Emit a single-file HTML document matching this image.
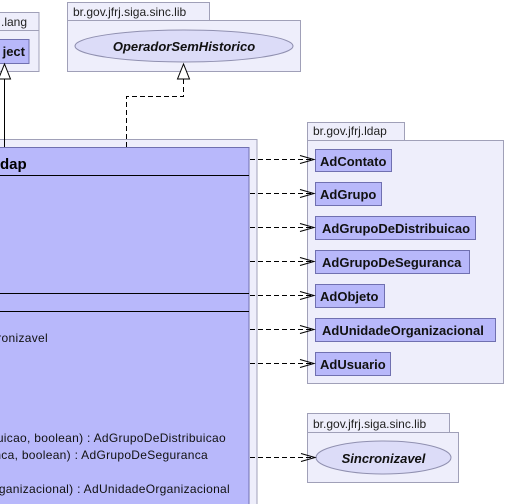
<!DOCTYPE html>
<html><head><meta charset="utf-8"><style>
html,body{margin:0;padding:0;background:#fff;width:506px;height:504px;overflow:hidden}
svg{display:block}
text{font-family:"Liberation Sans",sans-serif}
</style></head><body>
<svg width="506" height="504" viewBox="0 0 506 504" xmlns="http://www.w3.org/2000/svg">
<g stroke="#a0a0b8" stroke-width="1" fill="#eeeefb">
<rect x="-5" y="12.5" width="44" height="18"/>
<rect x="-5" y="30.5" width="44" height="41"/>
<rect x="67.5" y="2.5" width="142" height="18"/>
<rect x="67.5" y="20.5" width="233" height="51"/>
<rect x="-5" y="139.5" width="262" height="380"/>
<rect x="307.5" y="122.5" width="97" height="18"/>
<rect x="307.5" y="140.5" width="196" height="243"/>
<rect x="307.5" y="413.5" width="142" height="19"/>
<rect x="307.5" y="432.5" width="151" height="50"/>
</g>
<g font-size="12" fill="#222">
<text x="1" y="26">.lang</text>
<text x="73" y="16">br.gov.jfrj.siga.sinc.lib</text>
<text x="313" y="135">br.gov.jfrj.ldap</text>
<text x="313" y="428">br.gov.jfrj.siga.sinc.lib</text>
</g>
<ellipse cx="184" cy="46" rx="109" ry="16" fill="#dcdcf8" stroke="#9090b0"/>
<text x="184" y="51" font-size="13" font-weight="bold" font-style="italic" text-anchor="middle" fill="#111">OperadorSemHistorico</text>
<ellipse cx="383.5" cy="457.5" rx="67.5" ry="16.5" fill="#dcdcf8" stroke="#9090b0"/>
<text x="383.5" y="463" font-size="13" font-weight="bold" font-style="italic" text-anchor="middle" fill="#111">Sincronizavel</text>
<rect x="-5" y="39.5" width="34" height="24" fill="#b8b8fa" stroke="#7070b0"/>
<text x="25" y="56" font-size="13" font-weight="bold" text-anchor="end" fill="#111">ject</text>
<rect x="-5" y="147.5" width="254" height="370" fill="#b8b8fb" stroke="#7070b0"/>
<g stroke="#000">
<line x1="0" y1="175.5" x2="249" y2="175.5"/>
<line x1="0" y1="293.5" x2="249" y2="293.5"/>
<line x1="0" y1="311.5" x2="249" y2="311.5"/>
</g>
<text x="0" y="169" font-size="15" font-weight="bold" fill="#000">dap</text>
<g font-size="12" fill="#111" text-anchor="end" letter-spacing="0.3">
<text x="48" y="342">ronizavel</text>
<text x="226" y="442">buicao, boolean) : AdGrupoDeDistribuicao</text>
<text x="208" y="459">anca, boolean) : AdGrupoDeSeguranca</text>
<text x="230" y="493">Organizacional) : AdUnidadeOrganizacional</text>
</g>
<g fill="#b8b8fa" stroke="#7070b0">
<rect x="315.5" y="149.5" width="76" height="22"/>
<rect x="315.5" y="182.5" width="66" height="23"/>
<rect x="315.5" y="216.5" width="160" height="23"/>
<rect x="315.5" y="250.5" width="154" height="23"/>
<rect x="315.5" y="284.5" width="69" height="23"/>
<rect x="315.5" y="318.5" width="180" height="23"/>
<rect x="315.5" y="352.5" width="75" height="23"/>
</g>
<g font-size="13" font-weight="bold" fill="#111">
<text x="320" y="166">AdContato</text>
<text x="320" y="199">AdGrupo</text>
<text x="322" y="233">AdGrupoDeDistribuicao</text>
<text x="322" y="267">AdGrupoDeSeguranca</text>
<text x="320" y="301">AdObjeto</text>
<text x="322" y="335">AdUnidadeOrganizacional</text>
<text x="320" y="369">AdUsuario</text>
</g>
<g stroke="#000" fill="none">
<g stroke-dasharray="5,3">
<line x1="250" y1="159.5" x2="314" y2="159.5"/>
<line x1="250" y1="193.5" x2="314" y2="193.5"/>
<line x1="250" y1="227.5" x2="314" y2="227.5"/>
<line x1="250" y1="261.5" x2="314" y2="261.5"/>
<line x1="250" y1="295.5" x2="314" y2="295.5"/>
<line x1="250" y1="329.5" x2="314" y2="329.5"/>
<line x1="250" y1="363.5" x2="314" y2="363.5"/>
<line x1="250" y1="457.5" x2="315" y2="457.5"/>
<polyline points="126.5,147 126.5,96.5 183.5,96.5 183.5,79"/>
</g>
<polyline points="300,155.5 314,159.5 300,163.5"/>
<polyline points="300,189.5 314,193.5 300,197.5"/>
<polyline points="300,223.5 314,227.5 300,231.5"/>
<polyline points="300,257.5 314,261.5 300,265.5"/>
<polyline points="300,291.5 314,295.5 300,299.5"/>
<polyline points="300,325.5 314,329.5 300,333.5"/>
<polyline points="300,359.5 314,363.5 300,367.5"/>
<polyline points="301,453.5 315,457.5 301,461.5"/>
<line x1="4.5" y1="79" x2="4.5" y2="147"/>
</g>
<polygon points="183.5,64 177.5,79 189.5,79" fill="#fff" stroke="#000"/>
<polygon points="4.5,64 -1.5,79 10.5,79" fill="#fff" stroke="#000"/>
</svg>
</body></html>
